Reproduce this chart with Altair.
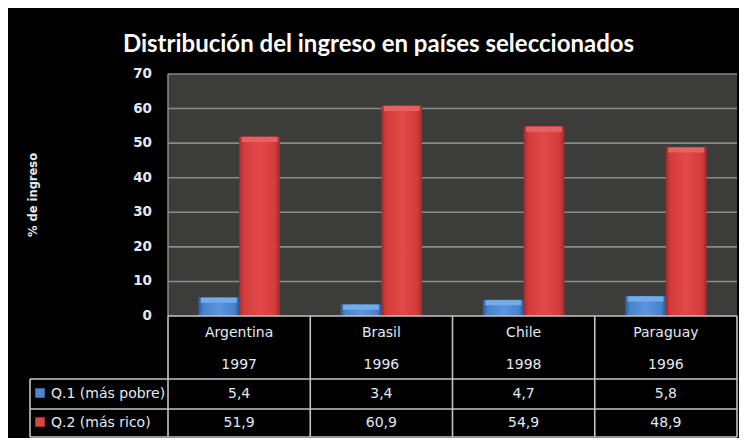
import altair as alt
import pandas as pd

countries = ["Argentina", "Brasil", "Chile", "Paraguay"]
years = ["1997", "1996", "1998", "1996"]
series = ["Q.1 (más pobre)", "Q.2 (más rico)"]
q1 = [5.4, 3.4, 4.7, 5.8]
q2 = [51.9, 60.9, 54.9, 48.9]
y_ticks = [0, 10, 20, 30, 40, 50, 60, 70]

W, H = 569, 242
R1, R2, R3 = 63, 93, 121  # table row bottoms below the plot
TXT = "#e2eaf3"
LINE = "#c4c4c4"

rows = []
for c, yr, a, b in zip(countries, years, q1, q2):
    rows.append({"country": c, "year": yr, "serie": series[0], "value": a,
                 "label": f"{a:.1f}".replace(".", ",")})
    rows.append({"country": c, "year": yr, "serie": series[1], "value": b,
                 "label": f"{b:.1f}".replace(".", ",")})
df = pd.DataFrame(rows)
cdf = pd.DataFrame({"country": countries, "year": years})
tdf = pd.DataFrame({"tick": y_ticks})
gdf = pd.DataFrame({"tick": y_ticks[1:]})
one = pd.DataFrame({"k": [0]})

xs = alt.Scale(domain=countries, paddingInner=0, paddingOuter=0)
ys = alt.Scale(domain=[0, 70], nice=False)
xos = alt.Scale(domain=series, paddingInner=0, paddingOuter=0.747)

plotbg = alt.Chart(one).mark_rect(color="#3c3d3a").encode(
    x=alt.value(0), x2=alt.value(W), y=alt.value(0), y2=alt.value(H))
grid = alt.Chart(gdf).mark_rule(color="#8a8a8a", strokeWidth=1.6).encode(
    y=alt.Y("tick:Q", scale=ys, axis=None), x=alt.value(0), x2=alt.value(W))
domain = alt.Chart(one).mark_rule(color="#8c8c8c", strokeWidth=1.5).encode(
    x=alt.value(0), y=alt.value(0), y2=alt.value(H))
ylabels = alt.Chart(tdf).mark_text(font="DejaVu Sans", fontSize=13.5, fontWeight="bold",
                                   color=TXT, align="right", baseline="middle").encode(
    y=alt.Y("tick:Q", scale=ys, axis=None), x=alt.value(-16), text="tick:Q")
ytitle = alt.Chart(one).mark_text(text="% de ingreso", font="DejaVu Sans", fontSize=11.5,
                                  fontWeight="bold", color=TXT, angle=270,
                                  align="center", baseline="middle").encode(
    x=alt.value(-134), y=alt.value(H / 2))

def grad(dark, mid, light):
    return alt.Gradient(gradient="linear", x1=0, x2=1, y1=0, y2=0, stops=[
        alt.GradientStop(offset=0, color=dark),
        alt.GradientStop(offset=0.12, color=mid),
        alt.GradientStop(offset=0.5, color=light),
        alt.GradientStop(offset=0.88, color=mid),
        alt.GradientStop(offset=1, color=dark)])

def bars(s, fill):
    return alt.Chart(df).transform_filter(alt.datum.serie == s).mark_bar(
        color=fill).encode(
        x=alt.X("country:N", scale=xs, axis=None),
        xOffset=alt.XOffset("serie:N", scale=xos),
        y=alt.Y("value:Q", scale=ys, axis=None))

def bevel(s, col):
    return alt.Chart(df).transform_filter(alt.datum.serie == s).mark_tick(
        orient="horizontal", thickness=5, size=36, yOffset=3, color=col, opacity=1).encode(
        x=alt.X("country:N", scale=xs, axis=None),
        xOffset=alt.XOffset("serie:N", scale=xos),
        y=alt.Y("value:Q", scale=ys, axis=None))

b1 = bars(series[0], grad("#2c5c9c", "#4883ce", "#5a95e0"))
b2 = bars(series[1], grad("#a32a2a", "#d43c3c", "#e24a4a"))
bv1 = bevel(series[0], "#74abea")
bv2 = bevel(series[1], "#e66262")

# table lines
LX = -138
hline0 = alt.Chart(one).mark_rule(color=LINE, strokeWidth=1.6).encode(
    x=alt.value(0), x2=alt.value(W), y=alt.value(H))
hlines = [alt.Chart(one).mark_rule(color=LINE, strokeWidth=1.6).encode(
    x=alt.value(LX), x2=alt.value(W), y=alt.value(H + v)) for v in (R1, R2, R3)]
vlines = alt.Chart(cdf).mark_rule(color=LINE, strokeWidth=1.6).encode(
    x=alt.X("country:N", scale=xs, axis=None, bandPosition=0),
    y=alt.value(H), y2=alt.value(H + R3))
vright = alt.Chart(one).mark_rule(color=LINE, strokeWidth=1.6).encode(
    x=alt.value(W), y=alt.value(H), y2=alt.value(H + R3))
vleft = alt.Chart(one).mark_rule(color=LINE, strokeWidth=1.6).encode(
    x=alt.value(LX), y=alt.value(H + R1), y2=alt.value(H + R3))

tfont = dict(font="DejaVu Sans", fontSize=14, color=TXT, baseline="middle", align="center")
tname = alt.Chart(cdf).mark_text(**tfont).encode(
    x=alt.X("country:N", scale=xs, axis=None), y=alt.value(H + 17), text="country:N")
tyear = alt.Chart(cdf).mark_text(**tfont).encode(
    x=alt.X("country:N", scale=xs, axis=None), y=alt.value(H + 49), text="year:N")
tq1 = alt.Chart(df).transform_filter(alt.datum.serie == series[0]).mark_text(**tfont).encode(
    x=alt.X("country:N", scale=xs, axis=None), y=alt.value(H + (R1 + R2) / 2), text="label:N")
tq2 = alt.Chart(df).transform_filter(alt.datum.serie == series[1]).mark_text(**tfont).encode(
    x=alt.X("country:N", scale=xs, axis=None), y=alt.value(H + (R2 + R3) / 2), text="label:N")

lfont = dict(font="DejaVu Sans", fontSize=14, color=TXT, baseline="middle", align="left")
leg1 = alt.Chart(one).mark_text(text=series[0], **lfont).encode(
    x=alt.value(LX + 21), y=alt.value(H + (R1 + R2) / 2))
leg2 = alt.Chart(one).mark_text(text=series[1], **lfont).encode(
    x=alt.value(LX + 21), y=alt.value(H + (R2 + R3) / 2))
sq1 = alt.Chart(one).mark_square(size=90, opacity=1, color="#4a86d2").encode(
    x=alt.value(LX + 10), y=alt.value(H + (R1 + R2) / 2 - 1))
sq2 = alt.Chart(one).mark_square(size=90, opacity=1, color="#d84444").encode(
    x=alt.value(LX + 10), y=alt.value(H + (R2 + R3) / 2 - 1))

chart = alt.layer(plotbg, grid, b1, b2, bv1, bv2, domain, ylabels, ytitle, hline0, *hlines,
                  vlines, vright, vleft, tname, tyear, tq1, tq2,
                  leg1, leg2, sq1, sq2).properties(
    width=W, height=H,
    title=alt.TitleParams("Distribución del ingreso en países seleccionados",
                          font="Lato", fontSize=24, fontWeight="bold", color="#ffffff",
                          anchor="middle", frame="group", dx=-74, offset=10),
    autosize=alt.AutoSizeParams(type="none"),
    padding={"left": 160, "top": 66, "right": 2, "bottom": 122},
    background="#000000",
).configure_view(strokeWidth=0)

chart.save("out.html", embed_options={"renderer": "svg", "actions": False})
